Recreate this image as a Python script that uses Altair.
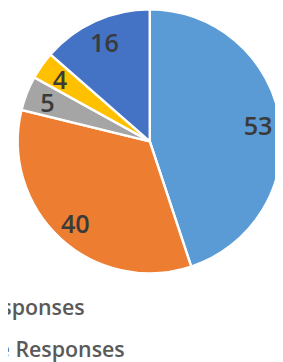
import altair as alt
import pandas as pd

categories = ["Correct Responses", "Incomplete Responses", "Incorrect Responses",
              "Unclear Responses", "No Responses"]
values = [53, 40, 5, 4, 16]
colors = ["#5B9BD5", "#ED7D31", "#A5A5A5", "#FFC000", "#4472C4"]

df = pd.DataFrame({"category": categories, "value": values,
                   "order": list(range(len(categories)))})

cx, cy, r = 146, 132, 136

base = alt.Chart(df).encode(
    theta=alt.Theta("value:Q", stack=True),
    order=alt.Order("order:Q"),
)

pie = base.mark_arc(stroke="white", strokeWidth=2.5, radius=r).encode(
    x=alt.value(cx), y=alt.value(cy),
    color=alt.Color(
        "category:N",
        scale=alt.Scale(domain=categories, range=colors),
        sort=categories,
        legend=alt.Legend(
            title=None, orient="none", legendX=-144, legendY=293,
            labelFontSize=22, labelFont="Open Sans", labelFontWeight=600,
            labelColor="#595959", labelLimit=500, symbolType="square",
            symbolSize=200, rowPadding=21,
        ),
    ),
)

labels = base.mark_text(
    radius=113, font="Open Sans", fontSize=26, fontWeight=600, color="#3a3a3a",
    dy=3,
).encode(
    x=alt.value(cx), y=alt.value(cy),
    text=alt.Text("value:Q"),
)

chart = alt.layer(pie, labels).properties(
    width=275, height=354, padding=0,
    autosize=alt.AutoSizeParams(type="none"),
    background="white",
).configure_view(stroke=None)

chart.save("out.html", embed_options={"renderer": "svg", "actions": False})
